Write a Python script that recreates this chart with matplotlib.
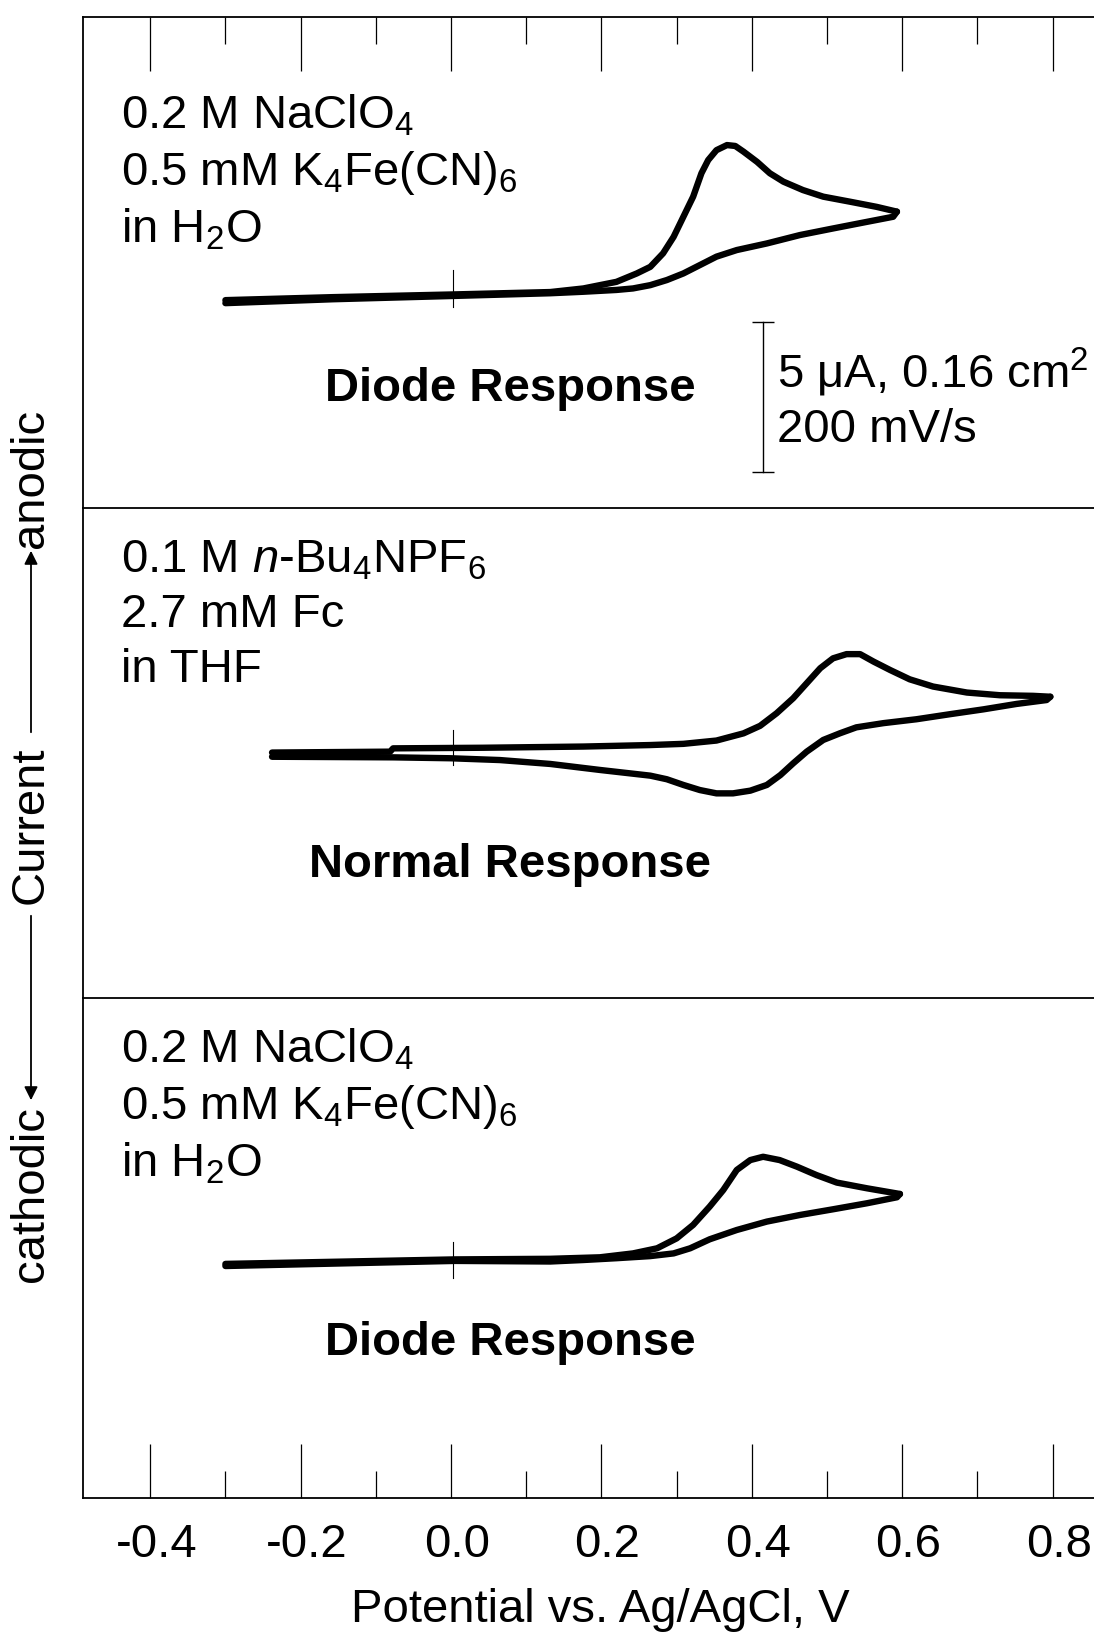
import matplotlib
matplotlib.use('Agg')
import matplotlib.pyplot as plt
from matplotlib.patches import FancyArrowPatch
import matplotlib.transforms as mtransforms

plt.rcParams['font.family'] = ['Liberation Sans', 'DejaVu Sans']
plt.rcParams['mathtext.fontset'] = 'custom'
plt.rcParams['mathtext.rm'] = 'Liberation Sans'
plt.rcParams['mathtext.it'] = 'Liberation Sans:italic'
plt.rcParams['mathtext.bf'] = 'Liberation Sans:bold'
plt.rcParams['axes.unicode_minus'] = False

# ---------------- data (potential in V vs Ag/AgCl, current in uA) ----------------
# Top panel: diode response, K4Fe(CN)6 in water
top_fwd_E = [-0.300, -0.157, 0.003, 0.132, 0.176, 0.220, 0.247, 0.265, 0.282, 0.296,
             0.309, 0.322, 0.333, 0.342, 0.353, 0.367, 0.378, 0.389, 0.407, 0.424,
             0.442, 0.468, 0.495, 0.531, 0.566, 0.593]
top_fwd_I = [-0.17, -0.07, 0.02, 0.10, 0.22, 0.44, 0.72, 0.94, 1.39, 1.94,
             2.61, 3.28, 4.06, 4.50, 4.83, 5.00, 4.97, 4.78, 4.44, 4.06,
             3.78, 3.50, 3.28, 3.11, 2.94, 2.78]
top_rev_E = [0.593, 0.588, 0.553, 0.508, 0.464, 0.420, 0.380, 0.353, 0.331, 0.309,
             0.287, 0.265, 0.242, 0.220, 0.176, 0.132, 0.003, -0.157, -0.300]
top_rev_I = [2.78, 2.61, 2.44, 2.22, 2.00, 1.72, 1.50, 1.28, 1.00, 0.72,
             0.50, 0.33, 0.22, 0.17, 0.11, 0.06, -0.03, -0.14, -0.27]

# Middle panel: normal response, ferrocene in THF
mid_fwd_E = [-0.238, -0.081, -0.077, 0.043, 0.176, 0.265, 0.309, 0.353, 0.389, 0.411,
             0.433, 0.455, 0.473, 0.491, 0.508, 0.526, 0.544, 0.562, 0.584, 0.610,
             0.641, 0.686, 0.730, 0.774, 0.797]
mid_fwd_I = [-0.02, 0.01, 0.12, 0.14, 0.18, 0.23, 0.27, 0.38, 0.62, 0.87,
             1.29, 1.79, 2.29, 2.79, 3.12, 3.26, 3.26, 3.01, 2.73, 2.42,
             2.18, 1.98, 1.89, 1.87, 1.84]
mid_rev_E = [0.797, 0.792, 0.752, 0.708, 0.664, 0.619, 0.575, 0.539, 0.517, 0.495,
             0.473, 0.455, 0.438, 0.420, 0.398, 0.375, 0.353, 0.331, 0.309, 0.287,
             0.265, 0.198, 0.132, 0.065, -0.001, -0.077, -0.238]
mid_rev_I = [1.84, 1.73, 1.60, 1.42, 1.26, 1.09, 0.96, 0.82, 0.62, 0.40,
             0.01, -0.38, -0.77, -1.10, -1.29, -1.38, -1.38, -1.27, -1.10, -0.91,
             -0.79, -0.60, -0.40, -0.27, -0.21, -0.18, -0.16]

# Bottom panel: diode response, K4Fe(CN)6 in water
bot_fwd_E = [-0.300, 0.005, 0.132, 0.198, 0.242, 0.274, 0.300, 0.322, 0.344, 0.362,
             0.380, 0.398, 0.415, 0.437, 0.460, 0.486, 0.513, 0.553, 0.597]
bot_fwd_I = [-0.13, 0.02, 0.04, 0.09, 0.22, 0.39, 0.72, 1.17, 1.78, 2.33,
             3.00, 3.33, 3.44, 3.33, 3.11, 2.83, 2.58, 2.39, 2.20]
bot_rev_E = [0.597, 0.593, 0.553, 0.508, 0.464, 0.420, 0.380, 0.344, 0.318, 0.296,
             0.265, 0.220, 0.176, 0.132, 0.005, -0.300]
bot_rev_I = [2.20, 2.09, 1.89, 1.69, 1.50, 1.28, 1.00, 0.69, 0.39, 0.22,
             0.13, 0.06, 0.00, -0.05, -0.03, -0.20]

# zero-potential reference marks drawn on each trace (E, I_low, I_high)
zero_mark_E = 0.003
zero_mark_top = [-0.40, 0.83]
zero_mark_mid = [-0.43, 0.73]
zero_mark_bot = [-0.60, 0.60]

# scale bar: 5 uA
scale_bar_E = 0.4145
scale_bar_I = [-0.89, -5.89]

# axis ticks
major_ticks = [-0.4, -0.2, 0.0, 0.2, 0.4, 0.6, 0.8]
minor_ticks = [-0.3, -0.1, 0.1, 0.3, 0.5, 0.7]
tick_labels = ['-0.4', '-0.2', '0.0', '0.2', '0.4', '0.6', '0.8']

panel_texts = [
    [r'0.2 M NaClO$_4$', r'0.5 mM K$_4$Fe(CN)$_6$', r'in H$_2$O'],
    [r'0.1 M $\it{n}$-Bu$_4$NPF$_6$', '2.7 mM Fc', 'in THF'],
    [r'0.2 M NaClO$_4$', r'0.5 mM K$_4$Fe(CN)$_6$', r'in H$_2$O'],
]
panel_titles = ['Diode Response', 'Normal Response', 'Diode Response']

# ---------------- layout ----------------
W, H = 1094, 1639
fig = plt.figure(figsize=(W / 100, H / 100), dpi=100)

def fx(px):
    return px / W

def fy(py):
    return 1 - py / H

L = fx(82.7)
R = 1.01
xlim = (-0.4898, 0.8696)
panels = [(16.7, 508.0, (-7.10, 9.28)),
          (508.0, 998.0, (-8.20, 8.13)),
          (998.0, 1497.7, (-7.92, 8.73))]

axes = []
for (ytop, ybot, ylim) in panels:
    ax = fig.add_axes([L, fy(ybot), R - L, fy(ytop) - fy(ybot)])
    ax.set_xlim(*xlim)
    ax.set_ylim(*ylim)
    ax.set_yticks([])
    ax.spines['right'].set_visible(False)
    for s in ax.spines.values():
        s.set_linewidth(1.3)
    ax.patch.set_alpha(0)
    axes.append(ax)

ax_top, ax_mid, ax_bot = axes
ax_mid.spines['top'].set_visible(False)
ax_bot.spines['top'].set_visible(False)

lw = 4.6
style = dict(color='black', lw=lw, solid_capstyle='round', solid_joinstyle='round')
ax_top.plot(top_fwd_E, top_fwd_I, **style)
ax_top.plot(top_rev_E, top_rev_I, **style)
ax_mid.plot(mid_fwd_E, mid_fwd_I, **style)
ax_mid.plot(mid_rev_E, mid_rev_I, **style)
ax_bot.plot(bot_fwd_E, bot_fwd_I, **style)
ax_bot.plot(bot_rev_E, bot_rev_I, **style)

for ax, zm in zip(axes, [zero_mark_top, zero_mark_mid, zero_mark_bot]):
    ax.plot([zero_mark_E, zero_mark_E], zm, color='black', lw=0.8)

# scale bar
ax_top.plot([scale_bar_E, scale_bar_E], scale_bar_I, color='black', lw=1.0)
ax_top.plot([scale_bar_E, scale_bar_E], scale_bar_I, ls='none', marker='_',
            markersize=16, markeredgewidth=1.0, color='black')

# ticks
tick_major_len = 39
tick_minor_len = 19.5
ax_top.xaxis.set_ticks_position('top')
ax_top.set_xticks(major_ticks)
ax_top.set_xticks(minor_ticks, minor=True)
ax_top.tick_params(axis='x', which='both', direction='in', width=0.9,
                   labeltop=False, labelbottom=False, top=True, bottom=False)
ax_top.tick_params(axis='x', which='major', length=tick_major_len)
ax_top.tick_params(axis='x', which='minor', length=tick_minor_len)

ax_mid.set_xticks([])

ax_bot.xaxis.set_ticks_position('bottom')
ax_bot.set_xticks(major_ticks)
ax_bot.set_xticklabels(tick_labels)
ax_bot.set_xticks(minor_ticks, minor=True)
ax_bot.tick_params(axis='x', which='both', direction='in', width=0.9,
                   top=False, bottom=True, labelsize=34, pad=18)
ax_bot.tick_params(axis='x', which='major', length=tick_major_len)
ax_bot.tick_params(axis='x', which='minor', length=tick_minor_len)
offset = mtransforms.ScaledTranslation(0.06, 0, fig.dpi_scale_trans)
for lab in ax_bot.get_xticklabels():
    lab.set_transform(lab.get_transform() + offset)

# ---------------- text ----------------
FS = 34

def ftext(xp, yp, s, **kw):
    fig.text(fx(xp), fy(yp), s, **kw)

baselines = [[128, 185, 242], [572, 627, 682], [1062, 1119, 1176]]
for lines, bls in zip(panel_texts, baselines):
    for s, b in zip(lines, bls):
        ftext(121, b, s, fontsize=FS, ha='left', va='baseline')

title_pos = [(510, 401), (510, 877), (510, 1355)]
for t, (xp, yp) in zip(panel_titles, title_pos):
    ftext(xp, yp, t, fontsize=FS, fontweight='bold', ha='center', va='baseline')

ftext(776.7, 388, r'5 μA, 0.16 cm$^2$', fontsize=FS, ha='left', va='baseline')
ftext(776.7, 442, '200 mV/s', fontsize=FS, ha='left', va='baseline')

# x label
ftext(600, 1622, 'Potential vs. Ag/AgCl, V', fontsize=FS, ha='center', va='baseline')

# y label with arrows
xl = 31
ftext(xl, 478, 'anodic', fontsize=FS, rotation=90, ha='center', va='center')
ftext(xl, 825, 'Current', fontsize=FS, rotation=90, ha='center', va='center')
ftext(xl, 1194, 'cathodic', fontsize=FS, rotation=90, ha='center', va='center')
for (y1, y2) in [(735, 548), (913, 1103)]:
    fig.add_artist(FancyArrowPatch((fx(xl), fy(y1)), (fx(xl), fy(y2)),
                                   transform=fig.transFigure, arrowstyle='-|>',
                                   mutation_scale=20, lw=1.3, color='black'))

fig.savefig('out.png', dpi=100)
